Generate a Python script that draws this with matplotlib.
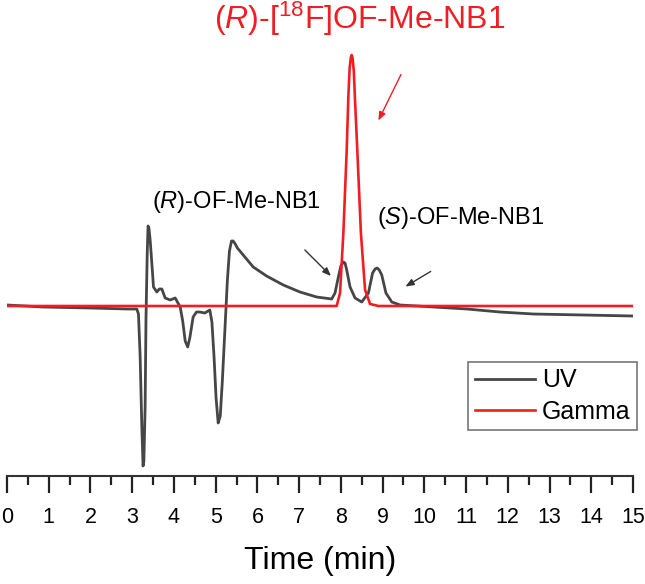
import matplotlib
matplotlib.use('Agg')
from matplotlib import pyplot as plt
from matplotlib.ticker import MultipleLocator

# UV 通道（时间 min，信号 任意单位）
uv_t = [0.00, 0.86, 2.00, 2.88, 3.11, 3.15, 3.19, 3.23, 3.26, 3.28, 3.31, 3.33, 3.36, 3.38, 3.40,
        3.43, 3.47, 3.51, 3.59, 3.65, 3.71, 3.79, 3.91, 3.97, 4.03, 4.15, 4.21, 4.27, 4.33, 4.38,
        4.46, 4.54, 4.62, 4.74, 4.86, 4.91, 4.96, 5.01, 5.06, 5.11, 5.16, 5.22, 5.28, 5.33, 5.38,
        5.42, 5.47, 5.52, 5.66, 5.90, 6.22, 6.62, 7.02, 7.42, 7.60, 7.78, 7.86, 7.94, 8.00, 8.06,
        8.10, 8.14, 8.22, 8.34, 8.50, 8.66, 8.76, 8.82, 8.87, 8.92, 8.98, 9.08, 9.22, 9.42, 10.22,
        11.02, 11.81, 12.61, 13.81, 15.00]
uv_s = [1, -1, -2, -3, -3, -8, -50, -120, -160, -155, -100, -14, 53, 80, 78,
        66, 43, 19, 14, 17, 17, 8, 6, 7, 8, -1, -15, -35, -41, -32,
        -11, -6, -6, -7, -4, -16, -50, -92, -117, -110, -75, -25, 25, 55, 65,
        65, 62, 58, 51, 39, 30, 21, 14, 9, 8, 7, 13, 29, 40, 44,
        43, 36, 19, 8, 4, 13, 33, 37, 38, 36, 31, 13, 4, 1, -1,
        -3, -6, -8, -9, -10]

# Gamma 通道
gm_t = [0.00, 7.90, 7.98, 8.06, 8.14, 8.18, 8.21, 8.24, 8.26, 8.28, 8.31, 8.34,
        8.40, 8.48, 8.58, 8.70, 8.90, 15.00]
gm_s = [0, 0, 13, 73, 156, 210, 238, 249, 251, 248, 235, 205,
        150, 73, 16, 2, 0, 0]

xticks = list(range(0, 16))
xlabels = [str(v) for v in xticks]

plt.rcParams['font.family'] = ['Liberation Sans', 'DejaVu Sans']
plt.rcParams['mathtext.fontset'] = 'custom'
plt.rcParams['mathtext.rm'] = 'Liberation Sans'
plt.rcParams['mathtext.it'] = 'Liberation Sans:italic'

fig = plt.figure(figsize=(6.45, 5.84), dpi=100)
ax = fig.add_axes([7/645, 108/584, 626/645, 476/584])

ax.plot(uv_t, uv_s, c='#464646', lw=2.0, label='UV', zorder=2)
ax.plot(gm_t, gm_s, c='#f01e23', lw=1.9, label='Gamma', zorder=3)

ax.set_xlim(0, 15)
ax.set_ylim(-170, 306)
for s in ['left', 'right', 'top']:
    ax.spines[s].set_visible(False)
ax.spines['bottom'].set_linewidth(1.5)
ax.spines['bottom'].set_color('#333333')
ax.set_yticks([])
ax.set_xticks(xticks)
ax.set_xticklabels(xlabels, fontsize=15.5,
                   family=['Liberation Sans Narrow', 'Liberation Sans'])
ax.xaxis.set_minor_locator(MultipleLocator(0.5))
ax.tick_params(axis='x', which='major', length=12, width=1.6, color='#222222', pad=10)
ax.tick_params(axis='x', which='minor', length=6.5, width=1.6, color='#222222')
ax.set_xlabel('Time (min)', size=23, labelpad=13)

# 标注
ax.text(8.46, 287, r'($\it{R}$)-[$^{18}$F]OF-Me-NB1', color='#f01e23', size=23,
        ha='center', va='center')
ax.text(3.47, 104, r'($\it{R}$)-OF-Me-NB1', color='black', size=17, ha='left', va='center')
ax.text(8.87, 88, r'($\it{S}$)-OF-Me-NB1', color='black', size=17, ha='left', va='center')

ax.annotate('', xy=(8.87, 183), xytext=(9.47, 234),
            arrowprops=dict(arrowstyle='-|>,head_length=0.5,head_width=0.2',
                            color='#f01e23', lw=1))
ax.annotate('', xy=(7.81, 28), xytext=(7.09, 58),
            arrowprops=dict(arrowstyle='-|>,head_length=0.5,head_width=0.2',
                            color='#333333', lw=1))
ax.annotate('', xy=(9.49, 18), xytext=(10.21, 36),
            arrowprops=dict(arrowstyle='-|>,head_length=0.5,head_width=0.2',
                            color='#333333', lw=1))

leg = ax.legend(loc='upper right', bbox_to_anchor=(637/645, 1 - 362/584),
                bbox_transform=fig.transFigure, fontsize=18, frameon=True,
                fancybox=False, handlelength=2.4, handletextpad=0.3,
                labelspacing=0.3, borderpad=0.25, borderaxespad=0)
leg.get_frame().set_edgecolor('#555555')
leg.get_frame().set_linewidth(1.2)

plt.savefig('out.png', dpi=100)
